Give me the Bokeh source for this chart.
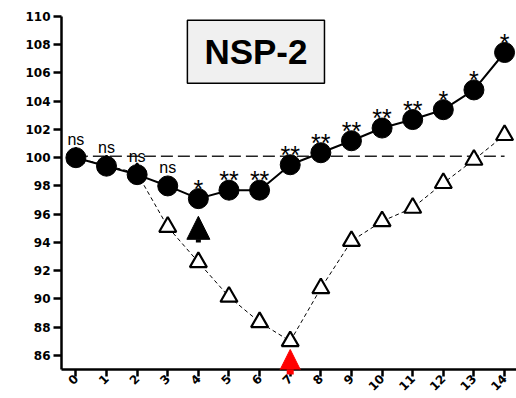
import math
from bokeh.plotting import figure
from bokeh.models import ColumnDataSource, LabelSet, Label, Arrow, NormalHead
from bokeh.embed import file_html
from bokeh.resources import INLINE
from bokeh.core.properties import value

# ---- data ----
days = list(range(15))
day_labels = [str(d) for d in days]
series_circle = [100.0, 99.4, 98.8, 98.0, 97.1, 97.7, 97.7, 99.5, 100.35, 101.2,
                 102.1, 102.7, 103.4, 104.8, 107.45]
series_triangle = [100.0, 99.45, 98.9, 95.1, 92.6, 90.15, 88.35, 87.0, 90.75, 94.1,
                   95.5, 96.45, 98.2, 99.85, 101.6]
significance = ["ns", "ns", "ns", "ns", "*", "**", "**", "**", "**", "**", "**", "**",
                "*", "*", "*"]
reference_level = 100.1
y_ticks = list(range(86, 111, 2))
title_text = "NSP-2"
black_arrow = dict(x=4, y_start=94.0, y_end=95.85)
red_arrow = dict(x=7, y_start=84.4, y_end=86.42)

FONT = "Liberation Sans"
TICK_FONT = "DejaVu Sans"

p = figure(width=516, height=398, x_range=(-0.47, 14.39), y_range=(85, 110),
           output_backend="svg", toolbar_location=None,
           min_border_left=61, min_border_right=0, min_border_top=16, min_border_bottom=29)
p.outline_line_color = None
p.grid.grid_line_color = None
p.background_fill_color = "white"

for ax in (p.xaxis[0], p.yaxis[0]):
    ax.axis_line_width = 2.5
    ax.axis_line_color = "black"
    ax.major_tick_line_width = 2.5
    ax.major_tick_line_color = "black"
    ax.major_tick_in = 0
    ax.minor_tick_line_color = None
    ax.major_label_text_font = TICK_FONT
    ax.major_label_text_font_style = "bold"
    ax.major_label_text_font_size = "12px"
    ax.major_label_text_color = "black"

p.yaxis.ticker = y_ticks
p.yaxis.major_tick_out = 8
p.yaxis.major_label_standoff = 3

p.xaxis.ticker = days
p.xaxis.major_label_overrides = {d: t for d, t in zip(days, day_labels)}
p.xaxis.major_label_orientation = math.pi / 4
p.xaxis.major_tick_out = 7
p.xaxis.major_label_standoff = 0

# reference dashed line
p.line([days[0], days[-1]], [reference_level, reference_level], line_color="#222222",
       line_width=1.5, line_dash="12 5")

# triangle series
tri_src = ColumnDataSource(dict(x=days, y=series_triangle))
p.line("x", "y", source=tri_src, line_color="black", line_width=1, line_dash="4 3")
p.scatter("x", "y", source=tri_src, marker="triangle", size=17, fill_color="white",
          line_color="black", line_width=2.2)

# circle series
circ_src = ColumnDataSource(dict(x=days, y=series_circle))
p.line("x", "y", source=circ_src, line_color="black", line_width=2)
p.scatter("x", "y", source=circ_src, marker="circle", size=20, fill_color="black",
          line_color="black")

# significance labels
ns_src = ColumnDataSource(dict(
    x=[d for d, s in zip(days, significance) if s == "ns"],
    y=[v for v, s in zip(series_circle, significance) if s == "ns"],
    t=[s for s in significance if s == "ns"]))
star_src = ColumnDataSource(dict(
    x=[d for d, s in zip(days, significance) if s != "ns"],
    y=[v for v, s in zip(series_circle, significance) if s != "ns"],
    t=[s for s in significance if s != "ns"]))
p.add_layout(LabelSet(x="x", y="y", text="t", source=ns_src, y_offset=13,
                      text_align="center", text_baseline="alphabetic",
                      text_font=value(FONT), text_font_size="16px", text_color="black"))
p.add_layout(LabelSet(x="x", y="y", text="t", source=star_src, y_offset=1,
                      text_align="center", text_baseline="alphabetic",
                      text_font=value(FONT), text_font_size="25px", text_color="black"))

# arrows
p.add_layout(Arrow(end=NormalHead(size=23, fill_color="black", line_color="black", line_width=1),
                   x_start=black_arrow["x"], y_start=black_arrow["y_start"],
                   x_end=black_arrow["x"], y_end=black_arrow["y_end"],
                   line_width=5, line_color="black"))
p.add_layout(Arrow(end=NormalHead(size=25, fill_color="#ff0000", line_color="#ff0000", line_width=1),
                   x_start=red_arrow["x"], y_start=red_arrow["y_start"],
                   x_end=red_arrow["x"], y_end=red_arrow["y_end"],
                   line_width=7, line_color="#ff0000"))

# title box
p.add_layout(Label(x=5.88, y=107.5, text=title_text, text_align="center",
                   text_baseline="middle", text_font=FONT, text_font_style="bold",
                   text_font_size="35px", text_color="black",
                   background_fill_color="#f0f0f0", border_line_color="black",
                   border_line_width=1.5,
                   padding=dict(left=17, right=17, top=12, bottom=12)))

open("out.html", "w").write(file_html(p, INLINE))
